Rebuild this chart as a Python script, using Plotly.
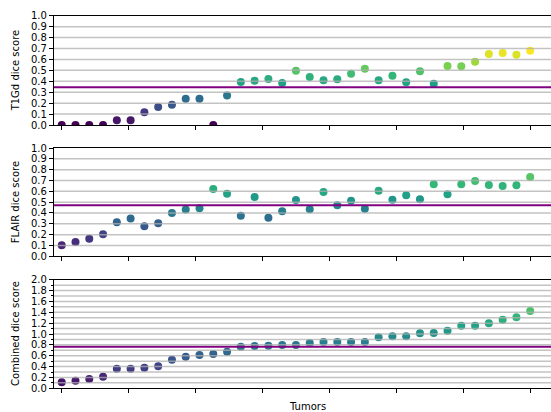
import numpy as np
import plotly.graph_objects as go
from plotly.subplots import make_subplots

tumors = list(range(35))

t1gd = [0.0, 0.0, 0.0, 0.0, 0.043, 0.043, 0.116, 0.165, 0.186, 0.241,
        0.241, 0.0, 0.271, 0.393, 0.405, 0.421, 0.384, 0.497, 0.439, 0.409,
        0.418, 0.470, 0.515, 0.409, 0.451, 0.390, 0.491, 0.378, 0.540, 0.537,
        0.579, 0.649, 0.659, 0.643, 0.680]

flair = [0.102, 0.132, 0.163, 0.203, 0.314, 0.348, 0.277, 0.305, 0.400, 0.431,
         0.443, 0.622, 0.578, 0.375, 0.548, 0.357, 0.415, 0.520, 0.434, 0.594,
         0.471, 0.514, 0.440, 0.606, 0.523, 0.563, 0.526, 0.665, 0.572, 0.665,
         0.695, 0.658, 0.649, 0.655, 0.732]

combined = [0.110, 0.141, 0.172, 0.215, 0.362, 0.362, 0.380, 0.405, 0.528, 0.583,
            0.613, 0.632, 0.675, 0.767, 0.779, 0.785, 0.798, 0.798, 0.834, 0.853,
            0.853, 0.853, 0.853, 0.939, 0.957, 0.957, 1.012, 1.018, 1.061, 1.153,
            1.153, 1.196, 1.264, 1.307, 1.423]

panels = [
    ("T1Gd dice score", t1gd, 0.0, max(t1gd), 1.0, 0.1),
    ("FLAIR dice score", flair, 0.0, 1.0, 1.0, 0.1),
    ("Combined dice score", combined, 0.0, 2.0, 2.0, 0.2),
]

W, H = 551, 412
L = 54
domains_px = [(15.7, 125.0), (148.0, 256.3), (279.7, 388.3)]

fig = make_subplots(rows=3, cols=1)

font = dict(family="DejaVu Sans", size=10, color="black")
xr = [-0.56, 35.51]
xticks = list(np.linspace(0, max(tumors), 8))

for i, (title, vals, cmin, cmax, ymax, dtick) in enumerate(panels):
    r = i + 1
    fig.add_trace(go.Scatter(
        x=tumors, y=vals, mode="markers",
        marker=dict(size=8, color=vals, colorscale="Viridis", cmin=cmin, cmax=cmax,
                    line=dict(width=0)),
        showlegend=False, hoverinfo="x+y"), row=r, col=1)

    top, bot = domains_px[i]
    dom = [1 - bot / H, 1 - top / H]
    xa = "xaxis" if r == 1 else f"xaxis{r}"
    ya = "yaxis" if r == 1 else f"yaxis{r}"
    fig.layout[xa].update(domain=[0, 1], range=xr, showline=True, linecolor="black",
                          linewidth=1.2, mirror=True, ticks="outside", ticklen=4,
                          tickwidth=1, tickcolor="black", tickvals=xticks,
                          showticklabels=False, showgrid=False, zeroline=False,
                          automargin=False)
    ydict = dict(domain=dom, range=[0, ymax], showline=True, linecolor="black",
                 linewidth=1.2, mirror=False, ticks="outside", ticklen=4,
                 tickwidth=1, tickcolor="black", dtick=dtick, tick0=0,
                 tickformat=".1f", tickfont=font, showgrid=False, zeroline=False,
                 automargin=False)
    if r == 3:
        ydict["minor"] = dict(dtick=0.1, ticks="outside", ticklen=2, tickcolor="black",
                              showgrid=False)
    fig.layout[ya].update(**ydict)

    xref = "x domain" if r == 1 else f"x{r} domain"
    yref = "y" if r == 1 else f"y{r}"
    m = float(np.mean(vals))
    fig.add_shape(type="line", xref=xref, yref=yref, x0=0, x1=1, y0=m, y1=m,
                  line=dict(color="#800080", width=2), layer="above")
    for g in np.arange(0.1, ymax - 1e-9, 0.1):
        fig.add_shape(type="line", xref=xref, yref=yref, x0=0, x1=1, y0=g, y1=g,
                      line=dict(color="rgba(175,175,175,0.75)", width=1.5), layer="above")

    cy = 1 - (top + bot) / 2 / H
    fig.add_annotation(text=title, xref="paper", yref="paper", x=(15 - L) / (W - L), y=cy,
                       textangle=-90, showarrow=False, font=font,
                       xanchor="center", yanchor="middle")

fig.add_annotation(text="Tumors", xref="paper", yref="paper", x=(307 - L) / (W - L),
                   y=(H - 406) / H, showarrow=False, font=font,
                   xanchor="center", yanchor="middle")

fig.update_layout(width=W, height=H, margin=dict(l=L, r=0, t=0, b=0),
                  plot_bgcolor="white", paper_bgcolor="white", font=font)

fig.write_html("out.html", config={"displayModeBar": False},
               post_script="document.body.style.margin='0';document.body.style.padding='0';")
